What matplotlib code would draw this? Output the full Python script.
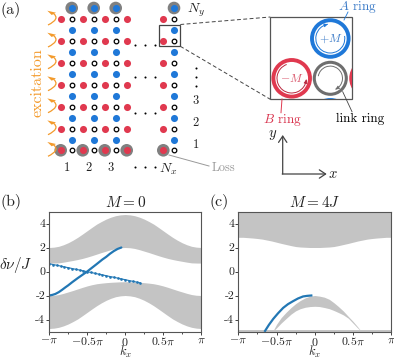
import numpy as np
import matplotlib
matplotlib.use("Agg")
import matplotlib.pyplot as plt
from matplotlib.patches import Circle, Rectangle, Arc, PathPatch, Polygon
from matplotlib.path import Path

plt.rcParams["font.family"] = ["cmr10", "DejaVu Serif"]
plt.rcParams["mathtext.fontset"] = "cm"
plt.rcParams["axes.formatter.use_mathtext"] = True

W, H = 394, 358
RED = "#e0394f"
BLUE = "#1f78d8"
GREY = "#6e6e6e"
ORANGE = "#f39a2b"
BAND = "#c4c4c4"
EDGE = "#2277b4"
TXT = "#222222"

# ---- lattice, panel (a)
red_x = [60.7, 82.7, 104.7, 126.7, 163.3]
link_x = [71.7, 93.7, 115.7, 174.0]
link_y = [19, 41, 62.7, 84.7, 106.7, 128.7, 150.3]
blue_y = [8, 30, 52, 74, 96, 118, 139.5]
col_labels = ["1", "2", "3"]
row_labels = ["3", "2", "1"]

# ---- band data, panel (b)
kx_grid = [-1, -0.9375, -0.875, -0.8125, -0.75, -0.6875, -0.625, -0.5625, -0.5,
           -0.4375, -0.375, -0.3125, -0.25, -0.1875, -0.125, -0.0625, 0,
           0.0625, 0.125, 0.1875, 0.25, 0.3125, 0.375, 0.4375, 0.5,
           0.5625, 0.625, 0.6875, 0.75, 0.8125, 0.875, 0.9375, 1]
b_up_low = [0.7, 0.705, 0.72, 0.78, 0.85, 0.92, 1.0, 1.09, 1.2,
            1.32, 1.45, 1.58, 1.7, 1.82, 1.92, 1.98, 2.0,
            1.98, 1.92, 1.82, 1.7, 1.58, 1.45, 1.32, 1.2,
            1.09, 1.0, 0.92, 0.85, 0.78, 0.72, 0.705, 0.7]
b_up_high = [2.0, 2.03, 2.1, 2.23, 2.4, 2.61, 2.85, 3.12, 3.4,
             3.68, 3.95, 4.17, 4.37, 4.53, 4.65, 4.72, 4.75,
             4.72, 4.65, 4.53, 4.37, 4.17, 3.95, 3.68, 3.4,
             3.12, 2.85, 2.61, 2.4, 2.23, 2.1, 2.03, 2.0]
b_lo_high = [-2.0, -1.98, -1.92, -1.82, -1.7, -1.58, -1.45, -1.32, -1.2,
             -1.1, -1.02, -0.97, -0.93, -0.9, -0.88, -0.86, -0.85,
             -0.86, -0.88, -0.9, -0.93, -0.97, -1.02, -1.1, -1.2,
             -1.32, -1.45, -1.58, -1.7, -1.82, -1.92, -1.98, -2.0]
b_lo_low = [-4.75, -4.72, -4.65, -4.53, -4.37, -4.17, -3.95, -3.68, -3.4,
            -3.12, -2.85, -2.61, -2.4, -2.23, -2.1, -2.03, -2.0,
            -2.03, -2.1, -2.23, -2.4, -2.61, -2.85, -3.12, -3.4,
            -3.68, -3.95, -4.17, -4.37, -4.53, -4.65, -4.72, -4.75]

edge1_k = [-1, -0.96, -0.92, -0.875, -0.83, -0.79, -0.75, -0.7, -0.625, -0.55, -0.5,
           -0.45, -0.375, -0.3, -0.25, -0.2, -0.15, -0.1, -0.05]
edge1_v = [-2.0, -1.95, -1.87, -1.72, -1.52, -1.33, -1.15, -0.9, -0.55, -0.22, 0.0,
           0.25, 0.62, 1.0, 1.22, 1.48, 1.7, 1.88, 2.0]
edge2_k = [-1, -0.95, -0.9, -0.85, -0.8, -0.75, -0.7, -0.65, -0.6, -0.55, -0.5,
           -0.45, -0.4, -0.35, -0.3, -0.25, -0.2, -0.15, -0.1, -0.05, 0,
           0.05, 0.1, 0.15, 0.2]
edge2_v = [0.65, 0.58, 0.52, 0.45, 0.38, 0.32, 0.25, 0.18, 0.12, 0.05, -0.02,
           -0.08, -0.15, -0.22, -0.28, -0.35, -0.42, -0.48, -0.55, -0.62, -0.68,
           -0.75, -0.82, -0.88, -0.95]

# ---- band data, panel (c)
c_up_low = [2.85, 2.85, 2.82, 2.79, 2.75, 2.7, 2.62, 2.54, 2.44,
            2.34, 2.25, 2.16, 2.08, 2.04, 2.02, 2.0, 2.0,
            2.0, 2.02, 2.04, 2.08, 2.16, 2.25, 2.34, 2.44,
            2.54, 2.62, 2.7, 2.75, 2.79, 2.82, 2.85, 2.85]
c_up_high = [5] * 33
c_strip_low = [-5] * 33
c_strip_high = [-4.87] * 33
c_wedge_k = [-0.55, -0.5, -0.44, -0.375, -0.31, -0.25, -0.19, -0.125, -0.06, 0,
             0.06, 0.125, 0.19, 0.25, 0.31, 0.375, 0.44, 0.5, 0.56, 0.61]
c_wedge_high = [-5.0, -4.4, -3.85, -3.4, -3.0, -2.68, -2.42, -2.2, -2.05, -2.0,
                -2.05, -2.14, -2.32, -2.6, -2.92, -3.3, -3.75, -4.15, -4.6, -5.0]
c_wedge_low = [-5.0, -4.7, -4.3, -3.92, -3.55, -3.28, -3.1, -2.98, -2.92, -2.9,
               -2.92, -3.0, -3.1, -3.25, -3.42, -3.62, -3.9, -4.3, -4.7, -5.0]
c_edge_k = [-0.65, -0.6, -0.543, -0.48, -0.413, -0.35, -0.283, -0.22, -0.153, -0.1, -0.045]
c_edge_v = [-4.95, -4.45, -3.95, -3.48, -3.03, -2.72, -2.47, -2.25, -2.08, -2.03, -2.0]

ticks_k = [-np.pi, -0.5 * np.pi, 0, 0.5 * np.pi, np.pi]
tick_labels = [r"$-\pi$", r"$-0.5\pi$", r"$0$", r"$0.5\pi$", r"$\pi$"]
minor_k = [-0.75 * np.pi, -0.25 * np.pi, 0.25 * np.pi, 0.75 * np.pi]
ticks_v = [-4, -2, 0, 2, 4]
tick_v_labels = ["-4", "-2", "0", "2", "4"]


def to_pi(vals):
    return np.array(vals) * np.pi


fig = plt.figure(figsize=(W / 100, H / 100), dpi=100)

# overlay in pixel coordinates for the schematic
ov = fig.add_axes([0, 0, 1, 1])
ov.set_xlim(0, W)
ov.set_ylim(H, 0)
ov.axis("off")


def px(l, t, r, b):
    return [l / W, 1 - b / H, (r - l) / W, (b - t) / H]


def style_axes(ax):
    ax.set_xlim(-np.pi, np.pi)
    ax.set_ylim(-5, 5)
    ax.set_xticks(ticks_k)
    ax.set_xticklabels(tick_labels)
    ax.set_xticks(minor_k, minor=True)
    ax.set_yticks(ticks_v)
    ax.set_yticklabels(tick_v_labels)
    ax.tick_params(labelsize=8.5, length=2, width=0.6, pad=1, colors=TXT)
    ax.tick_params(which="minor", length=1.2, width=0.5)
    for s in ax.spines.values():
        s.set_color("#555555")
        s.set_linewidth(0.8)
    ax.set_xlabel(r"$k_x$", fontsize=9, color=TXT, va="center")
    ax.xaxis.set_label_coords(0.5, -0.17)


# panel (b)
ax_b = fig.add_axes(px(49.3, 211.5, 201, 331.5))
ax_b.fill_between(to_pi(kx_grid), b_up_low, b_up_high, color=BAND, lw=0)
ax_b.fill_between(to_pi(kx_grid), b_lo_low, b_lo_high, color=BAND, lw=0)
ax_b.plot(to_pi(edge1_k), edge1_v, color=EDGE, lw=1.6, solid_capstyle="round")
ax_b.plot(to_pi(edge2_k), edge2_v, ls="none", marker="o", ms=1.9, color=EDGE, mew=0)
ax_b.plot(to_pi(edge2_k), edge2_v, color=EDGE, lw=0.8)
style_axes(ax_b)
ax_b.set_title(r"$M=0$", fontsize=11, pad=3, color=TXT)
ax_b.set_ylabel(r"$\delta\nu/J$", fontsize=11, rotation=0, color=TXT, ha="center", va="center")
ax_b.yaxis.set_label_coords(-0.223, 0.554)

# panel (c)
ax_c = fig.add_axes(px(238.3, 211.5, 391.2, 331.5))
ax_c.fill_between(to_pi(kx_grid), c_up_low, c_up_high, color=BAND, lw=0)
ax_c.fill_between(to_pi(kx_grid), c_strip_low, c_strip_high, color=BAND, lw=0)
ax_c.fill_between(to_pi(c_wedge_k), c_wedge_low, c_wedge_high, color=BAND, lw=0)
ax_c.plot(to_pi(c_edge_k), c_edge_v, color=EDGE, lw=1.6)
style_axes(ax_c)
ax_c.set_title(r"$M=4J$", fontsize=11, pad=3, color=TXT)

# panel labels
for s, x, y in [("(a)", 1, 10.5), ("(b)", 1, 202), ("(c)", 210, 202)]:
    ov.text(x, y, s, fontsize=11.5, va="center", ha="left", color=TXT)

# lattice
for x in link_x:
    ov.add_patch(Circle((x, blue_y[0]), 6.3, color="#808080", lw=0, zorder=2))
for x in red_x:
    ov.add_patch(Circle((x, link_y[-1]), 6.3, color="#808080", lw=0, zorder=2))
for y in link_y:
    ov.scatter(red_x, [y] * len(red_x), s=26, color=RED, lw=0, zorder=3)
    ov.scatter(link_x, [y] * len(link_x), s=11, facecolor="white", edgecolor="black", lw=0.9, zorder=3)
for y in blue_y:
    ov.scatter(link_x, [y] * len(link_x), s=26, color=BLUE, lw=0, zorder=3)

# dots between columns
for y in [45, 77, 113, 167]:
    ov.scatter([135, 145, 155], [y] * 3, s=2.2, color="black", lw=0)
ov.scatter([195.7] * 3, [68, 77, 86], s=2.2, color="black", lw=0)

# orange excitation arrows, curve and head drawn separately
for y in link_y:
    body = Path([(48, y + 6), (60.5, y), (53.5, y - 5.5)], [Path.MOVETO, Path.CURVE3, Path.CURVE3])
    ov.add_patch(PathPatch(body, fill=False, ec=ORANGE, lw=0.9, zorder=4))
    ov.add_patch(Polygon([(47.3, y - 8.3), (56, y - 6.3), (51.7, y - 4)], closed=True,
                         fc=ORANGE, ec="none", zorder=4))
ov.text(38, 83, "excitation", color=ORANGE, fontsize=11.5, rotation=90, ha="center", va="center")

# index labels
for x, s in zip([67, 88.3, 110.7], col_labels):
    ov.text(x, 168, s, fontsize=9, ha="center", va="center", color=TXT)
ov.text(168, 169, r"$N_x$", fontsize=10, ha="center", va="center", color=TXT)
ov.text(196, 10, r"$N_y$", fontsize=10, ha="center", va="center", color=TXT)
for y, s in zip([100.7, 123, 145], row_labels):
    ov.text(196, y, s, fontsize=9, ha="center", va="center", color=TXT)
ov.plot([169, 209], [155, 166], color="#999999", lw=0.7)
ov.text(212, 168, "Loss", fontsize=9, color="#999999", ha="left", va="center")

# zoom box and inset
ov.add_patch(Rectangle((159, 24.5), 21.3, 21.8, fill=False, ec="#444444", lw=0.9, zorder=5))
ov.plot([180.3, 270.3], [24.5, 17], color="#444444", lw=0.7, ls=(0, (4, 2.5)))
ov.plot([180.3, 270.3], [46.3, 99.3], color="#444444", lw=0.7, ls=(0, (4, 2.5)))
box = Rectangle((270.3, 17), 82, 82.3, fill=True, fc="white", ec="#555555", lw=0.9, zorder=5)
ov.add_patch(box)


def ring(cx, cy, r, col, lw):
    p = Circle((cx, cy), r, fill=False, ec=col, lw=lw, zorder=6)
    ov.add_patch(p)
    p.set_clip_path(box)


ring(330.3, 38.5, 18.3, BLUE, 2.8)
ring(291.7, 78.3, 18.3, RED, 2.8)
ring(330.3, 78.3, 16, GREY, 2.2)
ring(369.5, 78.3, 18.3, RED, 2.8)
ring(330.3, 118.3, 18.3, BLUE, 2.8)


def inner_arc(cx, cy, r, col, t1, t2, tip, sense):
    ov.add_patch(Arc((cx, cy), 2 * r, 2 * r, theta1=t1, theta2=t2, ec=col, lw=0.7, zorder=7))
    a = np.deg2rad(tip)
    b = a - sense * np.deg2rad(14)
    ov.annotate("", xy=(cx + r * np.cos(a), cy + r * np.sin(a)),
                xytext=(cx + r * np.cos(b), cy + r * np.sin(b)),
                arrowprops=dict(arrowstyle="-|>,head_length=0.22,head_width=0.11", color=col, lw=0.5,
                                shrinkA=0, shrinkB=0), zorder=7)


inner_arc(330.3, 38.5, 14.5, BLUE, -10, 260, 260, 1)
inner_arc(291.7, 78.3, 14.7, "#b8283e", 5, 250, 5, -1)
inner_arc(330.3, 78.3, 12.2, GREY, 190, 65, 65, 1)
ov.text(330.3, 38.5, r"$+M$", fontsize=8.5, color="#3d7cc8", ha="center", va="center", zorder=8)
ov.text(291.7, 78.3, r"$-M$", fontsize=8.5, color="#d9556a", ha="center", va="center", zorder=8)

# ring captions
ov.text(338, 7, r"$A$ ring", fontsize=9.5, color="#3d7cc8", ha="left", va="center")
ov.plot([344, 348], [20, 12], color=BLUE, lw=0.6, zorder=8)
ov.text(262.7, 120, r"$B$ ring", fontsize=9.5, color="#d9354f", ha="left", va="center")
ov.plot([282, 281], [99, 112.7], color=RED, lw=0.7, zorder=8)
ov.text(335.7, 119, "link ring", fontsize=9.5, color="black", ha="left", va="center")
ov.plot([342.7, 352], [91.7, 111.7], color="#444444", lw=0.6, zorder=8)

# axes arrows
ov.annotate("", xy=(282.7, 135), xytext=(282.7, 174),
            arrowprops=dict(arrowstyle="->,head_length=0.45,head_width=0.3", color="#444444", lw=0.9, shrinkA=0, shrinkB=0))
ov.annotate("", xy=(326.7, 174), xytext=(282.2, 174),
            arrowprops=dict(arrowstyle="->,head_length=0.45,head_width=0.3", color="#444444", lw=0.9, shrinkA=0, shrinkB=0))
ov.text(273, 135, r"$y$", fontsize=10.5, ha="center", va="center", color=TXT)
ov.text(333, 174, r"$x$", fontsize=10.5, ha="center", va="center", color=TXT)

fig.savefig("out.png", dpi=100)
